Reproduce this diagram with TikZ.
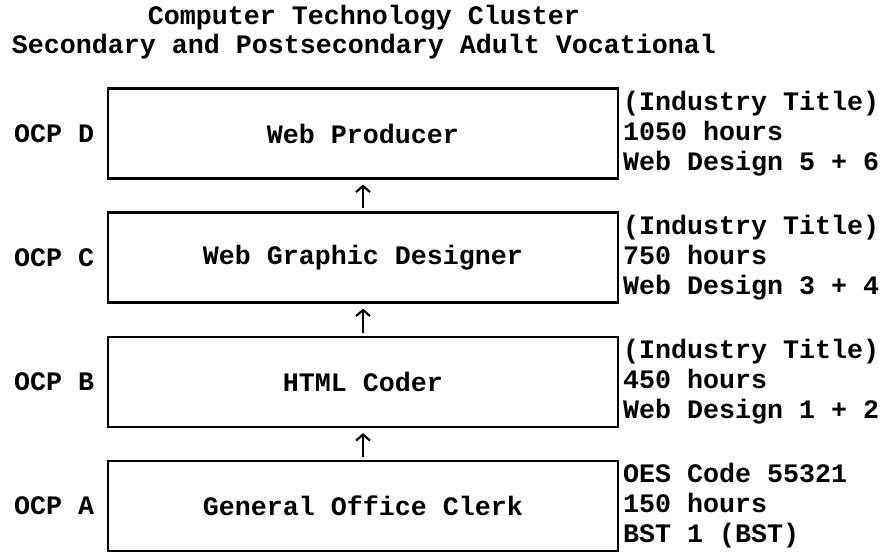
\documentclass[tikz,border=0pt]{standalone}
\usepackage{fontspec}
\setmainfont{Liberation Mono}
\usetikzlibrary{arrows.meta}
\begin{document}
\begin{tikzpicture}[x=1pt,y=-1pt,
  txt/.style={font=\fontsize{26.67}{30}\selectfont\bfseries, inner sep=0pt},
  box/.style={txt, draw, line width=2.2pt, minimum width=510pt, minimum height=90pt},
  lbl/.style={txt, anchor=west},
  info/.style={txt, anchor=west, align=left},
  arr/.style={line width=2.2pt, -{Straight Barb[length=6pt,width=14pt,line width=2.2pt]}}]
\useasboundingbox (0,0) rectangle (892,552);
\node[txt] (t1) at (364,18) {Computer Technology Cluster};
\node[txt] (t2) at (364,47) {Secondary and Postsecondary Adult Vocational};

\node[box] (D) at (363,133.5) {Web Producer};
\node[box] (C) at (363,257.5) {Web Graphic Designer};
\node[box] (B) at (363,382) {HTML Coder};
\node[box] (A) at (363,506) {General Office Clerk};

\node[lbl] (lD) at (14,133.5) {OCP D};
\node[lbl] (lC) at (14,257.5) {OCP C};
\node[lbl] (lB) at (14,382) {OCP B};
\node[lbl] (lA) at (14,506) {OCP A};

\node[info] (iD) at (623,133.5) {(Industry Title)\\1050 hours\\Web Design 5 + 6};
\node[info] (iC) at (623,257.5) {(Industry Title)\\750 hours\\Web Design 3 + 4};
\node[info] (iB) at (623,382) {(Industry Title)\\450 hours\\Web Design 1 + 2};
\node[info] (iA) at (623,506) {OES Code 55321\\150 hours\\BST 1 (BST)};

\draw[arr] ([yshift=3pt]C.north) -- ([yshift=-5pt]D.south);
\draw[arr] ([yshift=3pt]B.north) -- ([yshift=-5pt]C.south);
\draw[arr] ([yshift=3pt]A.north) -- ([yshift=-5pt]B.south);
\end{tikzpicture}
\end{document}
